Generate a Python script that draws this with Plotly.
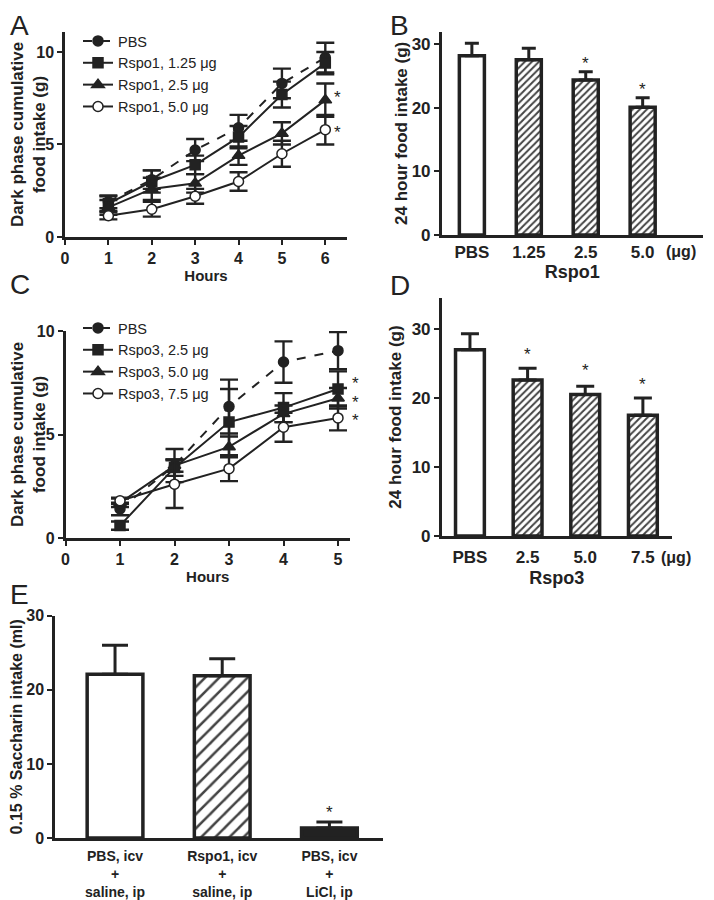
import plotly.graph_objects as go

W, H = 714, 900
OFF = 8  # page offset of the figure inside the browser window
FONT = "Liberation Sans, Arial, sans-serif"
INK = "#222222"

# ---------------- Panel A data ----------------
hours_a = [1, 2, 3, 4, 5, 6]
a_names = ["PBS", "Rspo1, 1.25 μg", "Rspo1, 2.5 μg", "Rspo1, 5.0 μg"]
a_pbs = [1.9, 3.1, 4.7, 5.9, 8.3, 9.7]
a_pbs_err = [0.35, 0.5, 0.6, 0.7, 0.8, 0.8]
a_r125 = [1.8, 3.0, 3.9, 5.4, 7.7, 9.4]
a_r125_err = [0.4, 0.6, 0.5, 0.6, 0.7, 0.6]
a_r25 = [1.6, 2.6, 2.9, 4.4, 5.6, 7.4]
a_r25_err = [0.4, 0.6, 0.5, 0.5, 0.6, 0.9]
a_r50 = [1.15, 1.5, 2.2, 3.0, 4.5, 5.8]
a_r50_err = [0.2, 0.4, 0.4, 0.5, 0.7, 0.8]
a_star_y = [7.7, 5.8]

# ---------------- Panel B data ----------------
b_cats = ["PBS", "1.25", "2.5", "5.0"]
b_vals = [28.2, 27.6, 24.4, 20.1]
b_err = [2.0, 1.8, 1.3, 1.5]
b_star_y = [None, None, 27.4, 23.4]

# ---------------- Panel C data ----------------
hours_c = [1, 2, 3, 4, 5]
c_names = ["PBS", "Rspo3, 2.5 μg", "Rspo3, 5.0 μg", "Rspo3, 7.5 μg"]
c_pbs = [1.4, 3.5, 6.35, 8.5, 9.05]
c_pbs_err = [0.3, 0.8, 1.3, 1.0, 0.9]
c_r25 = [0.6, 3.4, 5.6, 6.3, 7.2]
c_r25_err = [0.2, 0.4, 1.6, 0.7, 0.85]
c_r50 = [1.7, 3.5, 4.4, 6.0, 6.75]
c_r50_err = [0.2, 0.3, 0.5, 0.4, 0.5]
c_r75 = [1.8, 2.6, 3.35, 5.35, 5.8]
c_r75_err = [0.15, 1.15, 0.6, 0.7, 0.6]
c_star_y = [7.6, 6.7, 5.8]

# ---------------- Panel D data ----------------
d_cats = ["PBS", "2.5", "5.0", "7.5"]
d_vals = [27.0, 22.6, 20.5, 17.5]
d_err = [2.3, 1.7, 1.2, 2.5]
d_star_y = [None, 26.7, 24.4, 22.4]

# ---------------- Panel E data ----------------
e_cats = ["PBS, icv<br>+<br>saline, ip", "Rspo1, icv<br>+<br>saline, ip", "PBS, icv<br>+<br>LiCl, ip"]
e_vals = [22.1, 21.9, 1.35]
e_err = [3.9, 2.3, 0.8]
e_star_y = [None, None, 3.8]


def dx(p0, p1):
    return [(p0 - OFF) / W, (p1 - OFF) / W]


def dy(top, bottom):
    return [1 - (bottom - OFF) / H, 1 - (top - OFF) / H]


def px(x):
    return (x - OFF) / W


def py(y):
    return 1 - (y - OFF) / H


fig = go.Figure()

line_styles = [
    dict(dash="dash", symbol="circle", fill=INK),
    dict(dash="solid", symbol="square", fill=INK),
    dict(dash="solid", symbol="triangle-up", fill=INK),
    dict(dash="solid", symbol="circle", fill="white"),
]


def add_lines(xs, series, errs, names, xa, ya, legend):
    for s, e, n, st in zip(series, errs, names, line_styles):
        fig.add_trace(go.Scatter(
            x=xs, y=s, name=n, mode="lines+markers",
            xaxis=xa, yaxis=ya, legend=legend, cliponaxis=False,
            line=dict(color=INK, width=2, dash=st["dash"]),
            marker=dict(symbol=st["symbol"], size=10 if st["symbol"] != "triangle-up" else 11,
                        color=st["fill"], line=dict(color=INK, width=1.5)),
            error_y=dict(type="data", array=e, color=INK, thickness=2.4, width=9),
        ))


add_lines(hours_a, [a_pbs, a_r125, a_r25, a_r50],
          [a_pbs_err, a_r125_err, a_r25_err, a_r50_err], a_names, "x", "y", "legend")
add_lines(hours_c, [c_pbs, c_r25, c_r50, c_r75],
          [c_pbs_err, c_r25_err, c_r50_err, c_r75_err], c_names, "x3", "y3", "legend2")


def add_bars(cats, vals, errs, fills, patterns, psize, solidity, width, capw, xa, ya):
    fig.add_trace(go.Bar(
        x=cats, y=vals, xaxis=xa, yaxis=ya, showlegend=False, width=width,
        marker=dict(color=fills, line=dict(color=INK, width=3.5),
                    pattern=dict(shape=patterns, fgcolor="#111111", fgopacity=1, bgcolor="white",
                                 size=psize, solidity=solidity)),
        error_y=dict(type="data", symmetric=False, array=errs,
                     arrayminus=[0] * len(errs), color=INK, thickness=3, width=capw),
    ))


add_bars(b_cats, b_vals, b_err, ["white"] * 4, ["", "/", "/", "/"], 5, 0.4, 0.44, 7, "x2", "y2")
add_bars(d_cats, d_vals, d_err, ["white"] * 4, ["", "/", "/", "/"], 5, 0.4, 0.5, 9, "x4", "y4")
add_bars(e_cats, e_vals, e_err, ["white", "white", INK], ["", "/", ""], 10, 0.25, 0.52, 13, "x5", "y5")


def axis_common(**kw):
    base = dict(showline=True, linewidth=2.5, linecolor=INK, showgrid=False, zeroline=False,
                ticks="outside", ticklen=5, tickwidth=2, tickcolor=INK,
                tickfont=dict(family=FONT, size=16, color=INK, weight="bold"))
    base.update(kw)
    return base


def title(text, size, standoff):
    return dict(text=text, font=dict(family=FONT, size=size, color=INK, weight="bold"), standoff=standoff)


big_tick = dict(family=FONT, size=17, color=INK, weight="bold")

fig.update_layout(
    width=W, height=H, paper_bgcolor="white", plot_bgcolor="white",
    margin=dict(l=0, r=0, t=0, b=0, autoexpand=False),
    font=dict(family=FONT, color=INK),
    # Panel A
    xaxis=axis_common(domain=dx(65, 347), range=[0, 6.5], tickvals=[0, 1, 2, 3, 4, 5, 6],
                      anchor="y", title=title("Hours", 15, 4)),
    yaxis=axis_common(domain=dy(32, 237), range=[0, 11.08], tickvals=[0, 5, 10], anchor="x",
                      title=title("Dark phase cumulative<br>food intake (g)", 17, 3)),
    # Panel B
    xaxis2=axis_common(domain=dx(441.7, 703), range=[-0.53, 4.06], type="category", ticks="",
                       anchor="y2", tickfont=big_tick, title=title("Rspo1", 18, 0)),
    yaxis2=axis_common(domain=dy(31.7, 235), range=[0, 32], tickvals=[0, 10, 20, 30], anchor="x2",
                       tickfont=big_tick, title=title("24 hour food intake (g)", 17, 0)),
    # Panel C
    xaxis3=axis_common(domain=dx(65.5, 350), range=[0, 5.22], tickvals=[0, 1, 2, 3, 4, 5],
                       anchor="y3", title=title("Hours", 15, 4)),
    yaxis3=axis_common(domain=dy(331, 538), range=[0, 10], tickvals=[0, 5, 10], anchor="x3",
                       title=title("Dark phase cumulative<br>food intake (g)", 17, 3)),
    # Panel D
    xaxis4=axis_common(domain=dx(441.7, 671.7), range=[-0.49, 3.5], type="category", ticks="",
                       anchor="y4", tickfont=big_tick, ticklabelstandoff=4,
                       title=title("Rspo3", 18, 6)),
    yaxis4=axis_common(domain=dy(298, 536), range=[0, 34.5], tickvals=[0, 10, 20, 30], anchor="x4",
                       tickfont=big_tick, title=title("24 hour food intake (g)", 17, 6)),
    # Panel E
    xaxis5=axis_common(domain=dx(55, 383), range=[-0.56, 2.5], type="category", ticks="",
                       anchor="y5", ticklabelstandoff=3,
                       tickfont=dict(family=FONT, size=14, color=INK, weight="bold")),
    yaxis5=axis_common(domain=dy(615.7, 838), range=[0, 30], tickvals=[0, 10, 20, 30], anchor="x5",
                       title=title("0.15 % Saccharin intake (ml)", 16, 1)),
    legend=dict(x=px(78), y=py(25), xanchor="left", yanchor="top", bgcolor="rgba(0,0,0,0)",
                font=dict(family=FONT, size=14.5, color=INK), tracegroupgap=0, itemwidth=30),
    legend2=dict(x=px(78), y=py(312), xanchor="left", yanchor="top", bgcolor="rgba(0,0,0,0)",
                 font=dict(family=FONT, size=14.5, color=INK), tracegroupgap=0, itemwidth=30),
)

# ---------------- annotations ----------------
ann = []
star_font = dict(family=FONT, size=17, color=INK)
for yv in a_star_y:
    ann.append(dict(x=6, y=yv, xref="x", yref="y", text="*", showarrow=False, xshift=12, yshift=-3,
                    font=star_font))
for yv in c_star_y:
    ann.append(dict(x=5, y=yv, xref="x3", yref="y3", text="*", showarrow=False, xshift=17, yshift=-3,
                    font=star_font))
for i, yv in enumerate(b_star_y):
    if yv is not None:
        ann.append(dict(x=i, y=yv, xref="x2", yref="y2", text="*", showarrow=False, yshift=-3,
                        font=star_font))
for i, yv in enumerate(d_star_y):
    if yv is not None:
        ann.append(dict(x=i, y=yv, xref="x4", yref="y4", text="*", showarrow=False, yshift=-3,
                        font=star_font))
for i, yv in enumerate(e_star_y):
    if yv is not None:
        ann.append(dict(x=i, y=yv, xref="x5", yref="y5", text="*", showarrow=False, yshift=-3,
                        font=star_font))

mu_font = dict(family=FONT, size=16, color=INK, weight="bold")
ann.append(dict(x=len(b_cats) - 1, y=0, xref="x2", yref="y2", text="(μg)", showarrow=False,
                xshift=38, yshift=-16, font=mu_font))
ann.append(dict(x=len(d_cats) - 1, y=0, xref="x4", yref="y4", text="(μg)", showarrow=False,
                xshift=33, yshift=-21, font=mu_font))

# panel letters, kept fully inside the page so they are not clipped
letter_font = dict(family=FONT, size=28, color=INK)
for letter, lx, ly in [("A", 8, 8), ("B", 388, 8), ("C", 8, 267), ("D", 388, 268), ("E", 8, 577)]:
    ann.append(dict(x=px(lx), y=py(ly), xref="paper", yref="paper", text=letter,
                    showarrow=False, xanchor="left", yanchor="top", font=letter_font))

fig.update_layout(annotations=ann)
fig.write_html("out.html")
